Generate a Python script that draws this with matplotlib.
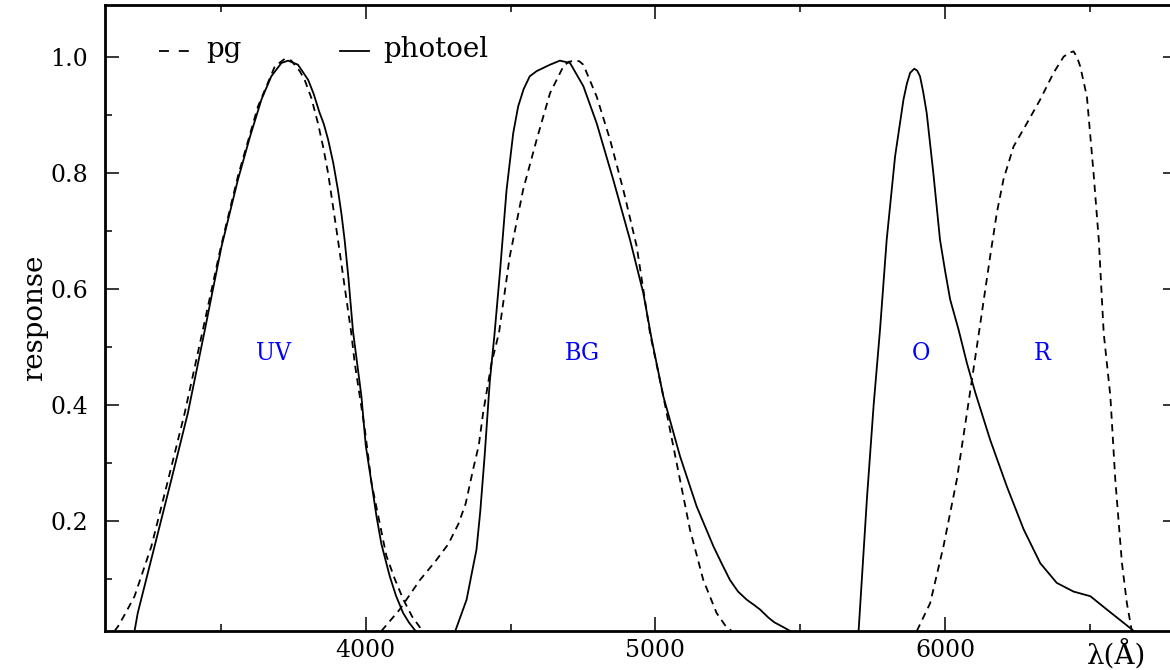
import matplotlib
matplotlib.use("Agg")
import matplotlib.pyplot as plt
from matplotlib.ticker import MultipleLocator

plt.rcParams['font.family'] = ['DejaVu Serif']

# filter response curves: wavelength (A) and relative response
uv_pe_x = [3202, 3213, 3271, 3329, 3386, 3444, 3502, 3559, 3600, 3640, 3674, 3709, 3732, 3766, 3801,
           3820, 3840, 3855, 3870, 3888, 3904, 3916, 3927, 3940, 3956, 3985, 4000, 4020, 4037, 4054,
           4083, 4105, 4129, 4150, 4172]
uv_pe_y = [0.01, 0.041, 0.156, 0.271, 0.386, 0.528, 0.673, 0.789, 0.862, 0.927, 0.967, 0.990, 0.994, 0.987, 0.961,
           0.937, 0.905, 0.885, 0.858, 0.817, 0.771, 0.73, 0.685, 0.62, 0.527, 0.415, 0.33, 0.265, 0.208, 0.16,
           0.104, 0.07, 0.041, 0.024, 0.01]

uv_pg_x = [3133, 3145, 3170, 3202, 3260, 3318, 3375, 3438, 3500, 3559, 3628, 3686, 3720, 3743, 3772,
           3789, 3812, 3835, 3853, 3870, 3904, 3950, 3962, 3997, 4020, 4071, 4100, 4129, 4160, 4196]
uv_pg_y = [0.01, 0.018, 0.04, 0.070, 0.156, 0.271, 0.386, 0.530, 0.673, 0.795, 0.915, 0.984, 0.997, 0.994, 0.976,
           0.961, 0.93, 0.886, 0.845, 0.800, 0.685, 0.524, 0.472, 0.357, 0.265, 0.14, 0.10, 0.065, 0.035, 0.01]

bg_pe_x = [4309, 4348, 4370, 4382, 4395, 4410, 4428, 4444, 4463, 4486, 4509, 4526, 4545, 4566, 4590,
           4636, 4670, 4705, 4751, 4797, 4854, 4912, 4958, 4987, 5027, 5085, 5142, 5200, 5230, 5257,
           5285, 5315, 5340, 5361, 5390, 5410, 5440, 5465]
bg_pe_y = [0.01, 0.064, 0.12, 0.150, 0.215, 0.31, 0.44, 0.52, 0.628, 0.771, 0.869, 0.915, 0.945, 0.967, 0.976,
           0.987, 0.994, 0.990, 0.950, 0.886, 0.789, 0.685, 0.593, 0.513, 0.415, 0.311, 0.225, 0.156, 0.125, 0.098,
           0.078, 0.064, 0.055, 0.047, 0.033, 0.025, 0.017, 0.01]

bg_pg_x = [4054, 4117, 4187, 4240, 4285, 4320, 4345, 4371, 4390, 4405, 4434, 4460, 4497, 4543, 4590,
           4636, 4682, 4700, 4722, 4737, 4751, 4797, 4843, 4889, 4935, 4981, 5027, 5073, 5119, 5165,
           5211, 5240, 5263]
bg_pg_y = [0.01, 0.047, 0.098, 0.13, 0.16, 0.195, 0.23, 0.29, 0.33, 0.386, 0.472, 0.525, 0.656, 0.771, 0.858,
           0.938, 0.984, 0.992, 0.994, 0.993, 0.987, 0.932, 0.858, 0.771, 0.674, 0.524, 0.415, 0.300, 0.185, 0.098,
           0.041, 0.02, 0.01]

o_pe_x = [5701, 5730, 5753, 5775, 5798, 5827, 5856, 5868, 5879, 5893, 5903, 5913, 5924, 5936, 5959,
          5982, 6000, 6017, 6046, 6075, 6104, 6155, 6213, 6271, 6328, 6385, 6443, 6501, 6558, 6616, 6651]
o_pe_y = [0.01, 0.24, 0.40, 0.53, 0.685, 0.829, 0.927, 0.955, 0.973, 0.980, 0.977, 0.967, 0.94, 0.904, 0.800,
          0.685, 0.63, 0.582, 0.530, 0.472, 0.421, 0.340, 0.259, 0.185, 0.127, 0.093, 0.078, 0.070, 0.047, 0.024, 0.01]

r_pg_x = [5902, 5948, 5994, 6040, 6075, 6118, 6155, 6178, 6201, 6236, 6282, 6328, 6374, 6409, 6430,
          6443, 6455, 6466, 6489, 6512, 6530, 6547, 6570, 6587, 6610, 6627, 6644]
r_pg_y = [0.01, 0.058, 0.156, 0.271, 0.386, 0.53, 0.656, 0.731, 0.789, 0.846, 0.886, 0.927, 0.973, 1.001, 1.008,
          1.010, 1.0, 0.984, 0.932, 0.800, 0.685, 0.524, 0.415, 0.271, 0.127, 0.058, 0.01]

band_names = ['UV', 'BG', 'O', 'R']
band_pos = [3682, 4748, 5915, 6335]

dash = (0, (4, 3))
lw = 1.3

fig = plt.figure(figsize=(11.7, 6.7), dpi=100)
ax = fig.add_axes([105 / 1170, 39 / 670, 1072 / 1170, 626 / 670])

for x, y in [(uv_pe_x, uv_pe_y), (bg_pe_x, bg_pe_y), (o_pe_x, o_pe_y)]:
    ax.plot(x, y, color='black', lw=lw, solid_joinstyle='round')
for x, y in [(uv_pg_x, uv_pg_y), (bg_pg_x, bg_pg_y), (r_pg_x, r_pg_y)]:
    ax.plot(x, y, color='black', lw=lw, linestyle=dash)

for name, xp in zip(band_names, band_pos):
    ax.text(xp, 0.478, name, color='blue', fontsize=18, fontstretch='condensed',
            ha='center', va='baseline')

# key
ax.plot([3288, 3392], [1.01, 1.01], color='black', lw=lw, linestyle=(0, (5.5, 5.5)))
ax.text(3451, 1.0, 'pg', fontsize=20, va='baseline')
ax.plot([3910, 4010], [1.01, 1.01], color='black', lw=lw)
ax.text(4059, 1.0, 'photoel', fontsize=20, va='baseline')

ax.set_xlim(3100, 6800)
ax.set_ylim(0.01, 1.09)
ax.xaxis.set_major_locator(MultipleLocator(1000))
ax.xaxis.set_minor_locator(MultipleLocator(500))
ax.yaxis.set_major_locator(MultipleLocator(0.2))
ax.yaxis.set_minor_locator(MultipleLocator(0.1))
ax.tick_params(which='both', direction='in', top=True, right=True, width=1.1)
ax.tick_params(which='major', length=10)
ax.tick_params(which='minor', length=5)
ax.tick_params(axis='x', labelsize=17, pad=6)
ax.tick_params(axis='y', labelsize=17, pad=12)
for s in ax.spines.values():
    s.set_linewidth(2)

ax.set_ylabel('response', fontsize=20, labelpad=2)
ax.annotate('λ(Å)', xy=(6590, 0), xycoords=('data', 'axes fraction'),
            xytext=(0, -6), textcoords='offset points', fontsize=20, ha='center', va='top')

fig.savefig('out.png', dpi=100)
